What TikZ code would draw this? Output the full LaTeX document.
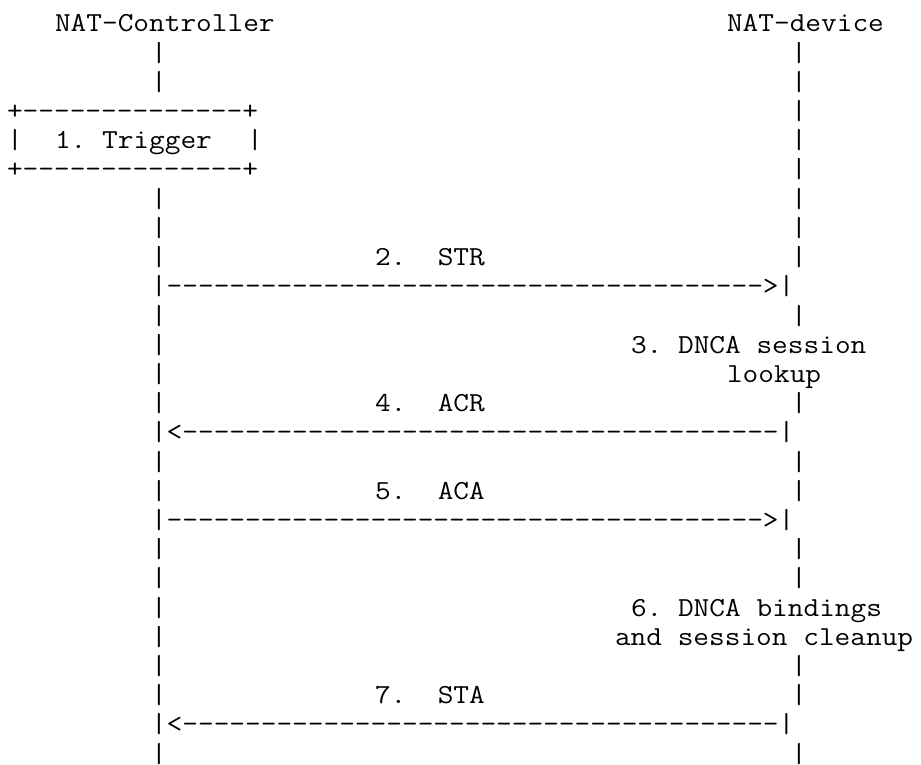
\documentclass[tikz,border=0pt]{standalone}
\usepackage{fontspec}
\usepackage{graphicx}
\tikzset{
  txt/.style={anchor=base west, inner sep=0pt, outer sep=0pt, text=black,
    font=\ttfamily\fontsize{27.5pt}{29.2pt}\selectfont\frenchspacing}
}
% column, row, name, text  (one column = 16 units, one row = 29.2 units)
\newcommand\cellat[4]{\node[txt] (#3) at ({7+16*#1},{32+29.2*#2}) {\scalebox{1.108}[1]{#4}};}
\newcommand\lifebars[1]{\cellat{9}{#1}{lc#1}{|}\cellat{49}{#1}{ld#1}{|}}
\begin{document}
\begin{tikzpicture}[x=1pt,y=-1pt]
\useasboundingbox (0,0) rectangle (921,765);
% headers
\cellat{3}{0}{ctrl}{NAT-Controller}
\cellat{45}{0}{dev}{NAT-device}
\lifebars{1}
\lifebars{2}
% trigger box
\cellat{0}{3}{boxtop}{+--------------+}
\cellat{49}{3}{ld3}{|}
\cellat{0}{4}{boxl}{|}
\cellat{3}{4}{trigger}{1. Trigger}
\cellat{15}{4}{boxr}{|}
\cellat{49}{4}{ld4}{|}
\cellat{0}{5}{boxbot}{+--------------+}
\cellat{49}{5}{ld5}{|}
\lifebars{6}
\lifebars{7}
% 2. STR
\lifebars{8}
\cellat{23}{8}{lstr}{2.~~STR}
\cellat{9}{9}{astr}{|-------------------------------------->|}
\lifebars{10}
% 3. lookup
\cellat{9}{11}{lc11}{|}
\cellat{39}{11}{lookupa}{3. DNCA session}
\cellat{9}{12}{lc12}{|}
\cellat{45}{12}{lookupb}{lookup}
% 4. ACR
\lifebars{13}
\cellat{23}{13}{lacr}{4.~~ACR}
\cellat{9}{14}{aacr}{|<--------------------------------------|}
\lifebars{15}
% 5. ACA
\lifebars{16}
\cellat{23}{16}{laca}{5.~~ACA}
\cellat{9}{17}{aaca}{|-------------------------------------->|}
\lifebars{18}
\lifebars{19}
% 6. cleanup
\cellat{9}{20}{lc20}{|}
\cellat{39}{20}{cleana}{6. DNCA bindings}
\cellat{9}{21}{lc21}{|}
\cellat{38}{21}{cleanb}{and session cleanup}
\lifebars{22}
% 7. STA
\lifebars{23}
\cellat{23}{23}{lsta}{7.~~STA}
\cellat{9}{24}{asta}{|<--------------------------------------|}
\lifebars{25}
\end{tikzpicture}
\end{document}
